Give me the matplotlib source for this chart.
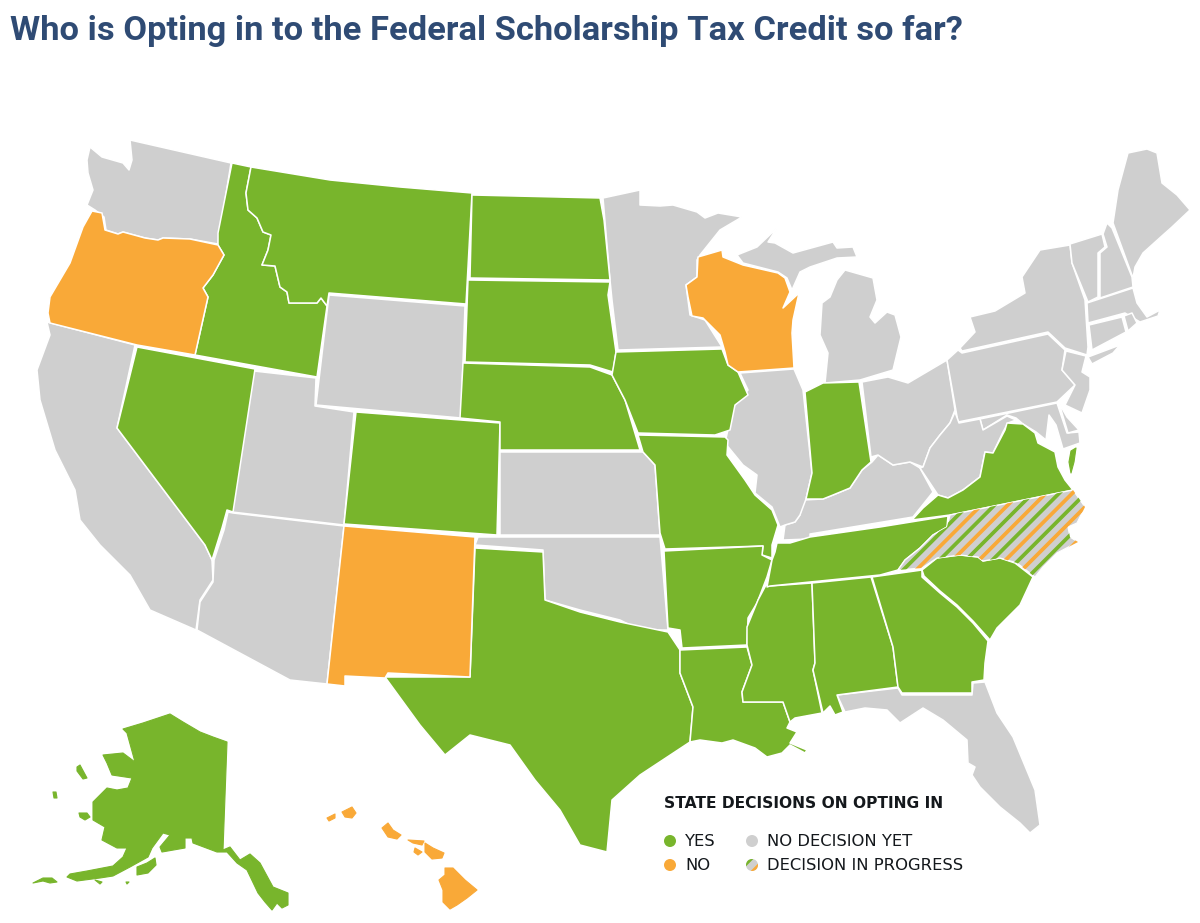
import matplotlib
matplotlib.use("Agg")
import matplotlib.pyplot as plt
from matplotlib.patches import Polygon, Circle

GREEN = "#78B52C"
ORANGE = "#F9A938"
GRAY = "#CFCFCF"

# state outlines in pixels
WA = [(130,140),(231,163),(218,244),(190,239),(163,238),(158,240),(145,238),(123,232),(118,234),(106,230),(104,217),(95,210),(87,205),(93,190),(88,173),(87,160),(90,147),(102,157),(123,163),(129,170),(132,160)]
OR = [(92,211),(102,213),(105,230),(118,234),(123,232),(145,238),(158,240),(163,238),(190,239),(218,245),(224,255),(213,275),(203,288),(208,297),(195,355),(137,345),(50,323),(48,313),(50,297),(70,263),(83,227)]
ID = [(232,163),(251,167),(246,193),(248,210),(257,218),(263,232),(271,235),(268,250),(262,265),(275,266),(280,287),(287,292),(289,303),(317,303),(321,298),(327,306),(317,377),(195,355),(208,297),(203,288),(213,275),(224,255),(218,245),(218,233)]
MT = [(251,167),(330,180),(400,187),(472,193),(466,304),(329,293),(327,306),(321,298),(317,303),(289,303),(287,292),(280,287),(275,266),(262,265),(268,250),(271,235),(263,232),(257,218),(248,210),(246,193)]
WY = [(329,295),(465,306),(461,418),(316,405)]
NV = [(137,347),(255,369),(233,512),(227,510),(222,528),(212,560),(205,545),(117,428)]
CA = [(47,322),(135,345),(117,428),(205,545),(212,560),(213,580),(200,600),(196,630),(150,610),(130,575),(100,545),(80,520),(75,490),(55,450),(40,400),(37,370),(50,335)]
UT = [(254,371),(316,378),(315,406),(354,412),(344,525),(232,512)]
AZ = [(233,513),(344,526),(327,684),(290,680),(197,630),(200,602),(213,582),(214,560),(224,530),(228,512)]
CO = [(356,412),(500,423),(497,535),(344,524)]
NM = [(344,526),(475,537),(470,677),(388,673),(385,678),(345,676),(345,686),(327,684)]
ND = [(472,195),(600,198),(604,220),(610,280),(470,278)]
SD = [(468,280),(610,282),(608,295),(616,352),(613,372),(590,365),(465,362)]
NE = [(463,363),(590,367),(612,375),(625,400),(640,450),(500,450),(500,422),(460,418)]
KS = [(500,452),(643,452),(655,465),(660,535),(500,535)]
OK = [(478,537),(660,537),(668,630),(640,630),(620,620),(580,610),(545,600),(543,550),(475,545)]
TX = [(475,548),(543,552),(545,600),(580,612),(620,622),(668,632),(680,650),(680,673),(693,707),(690,742),(640,775),(612,800),(607,852),(580,845),(560,810),(535,780),(510,745),(470,735),(445,755),(420,725),(385,677),(470,677)]
MN = [(603,198),(640,190),(640,205),(660,206),(673,205),(697,212),(705,218),(718,213),(742,217),(720,230),(700,255),(697,260),(697,277),(686,285),(690,315),(705,320),(722,347),(618,350),(612,300),(610,280)]
WI = [(698,257),(722,250),(723,257),(743,265),(778,273),(785,278),(790,292),(783,308),(799,293),(793,320),(792,333),(794,368),(738,372),(728,365),(725,352),(720,335),(703,318),(692,316),(688,297),(686,285),(697,277)]
IA = [(616,352),(722,349),(728,365),(738,372),(748,395),(735,405),(730,430),(715,435),(638,433),(625,400),(612,375)]
MO = [(638,435),(725,437),(728,440),(727,455),(745,480),(755,495),(772,510),(778,525),(772,545),(772,558),(762,555),(763,546),(665,549),(660,533),(655,465),(643,452)]
AR = [(664,551),(763,546),(762,555),(772,560),(767,577),(757,603),(748,618),(747,645),(682,648),(680,630),(668,628)]
LA = [(680,650),(747,647),(752,665),(742,692),(743,702),(783,702),(790,722),(787,728),(797,732),(790,743),(807,750),(805,753),(790,745),(782,753),(767,757),(755,748),(733,740),(722,743),(700,740),(690,742),(693,707),(680,673)]
MS = [(770,586),(812,583),(815,663),(813,670),(822,713),(795,718),(790,722),(783,702),(743,702),(742,692),(752,665),(747,645),(747,627),(758,600),(766,585)]
AL = [(812,583),(871,577),(893,647),(898,687),(837,695),(843,712),(835,715),(830,706),(823,713),(813,670),(815,663)]
GA = [(872,577),(922,570),(922,577),(940,593),(957,607),(973,623),(988,641),(985,663),(984,680),(972,682),(972,693),(902,693),(898,687),(893,647)]
SC = [(922,570),(937,558),(960,555),(978,557),(983,561),(1000,558),(1015,563),(1033,577),(1020,605),(997,628),(990,640),(973,621),(957,605),(940,591),(924,576)]
FL = [(837,695),(898,688),(902,695),(972,695),(973,683),(985,682),(997,713),(1013,737),(1035,790),(1040,825),(1030,833),(1020,823),(1000,807),(980,787),(972,775),(975,767),(968,763),(967,740),(943,720),(923,708),(900,723),(887,710),(865,708),(845,712)]
TN = [(777,543),(790,543),(810,537),(880,527),(948,516),(947,527),(933,535),(920,548),(905,560),(898,570),(880,575),(770,586),(767,587),(772,560),(775,552)]
KY = [(783,540),(785,525),(795,522),(800,515),(803,500),(823,499),(833,495),(850,488),(862,470),(872,462),(878,455),(893,465),(910,462),(920,468),(933,492),(913,517),(810,534),(810,539)]
IN = [(805,392),(823,383),(859,382),(871,462),(862,470),(850,488),(833,495),(823,499),(806,499),(812,473)]
IL = [(740,373),(794,369),(803,390),(812,473),(806,499),(800,515),(795,522),(785,525),(780,527),(772,507),(755,493),(757,475),(743,465),(725,443),(733,407),(748,390)]
MI_LOWER = [(820,335),(822,303),(830,297),(837,280),(845,270),(873,278),(877,300),(870,317),(875,323),(887,312),(895,315),(901,337),(893,370),(860,380),(825,383),(828,353)]
MI_UPPER = [(737,255),(757,247),(777,228),(768,242),(775,243),(793,253),(833,242),(837,248),(853,247),(857,257),(837,258),(810,267),(800,272),(792,290),(787,278),(778,272),(743,263)]
OH = [(862,382),(888,377),(908,383),(947,360),(955,410),(950,423),(940,435),(930,448),(923,467),(910,462),(893,465),(878,455),(871,457)]
PA = [(947,360),(958,350),(962,353),(1048,334),(1065,350),(1062,370),(1075,385),(1057,402),(958,422)]
NY = [(1070,245),(1040,250),(1022,277),(1025,293),(995,311),(970,317),(975,332),(960,348),(962,351),(1048,332),(1065,348),(1087,355),(1088,347),(1085,300),(1072,263)]
LONG_ISLAND = [(1088,357),(1120,345),(1113,353),(1092,364)]
NJ = [(1066,351),(1086,356),(1082,372),(1090,377),(1090,390),(1082,413),(1065,405),(1075,385),(1062,370)]
VT = [(1070,244),(1102,234),(1105,247),(1098,253),(1098,297),(1088,302),(1072,263)]
NH = [(1107,223),(1112,228),(1132,277),(1133,287),(1100,298),(1100,253),(1107,247),(1103,234)]
ME = [(1113,223),(1118,190),(1128,153),(1147,149),(1157,153),(1162,183),(1177,195),(1190,210),(1172,227),(1163,235),(1143,253),(1135,267),(1133,278)]
MA = [(1087,303),(1133,288),(1137,303),(1147,317),(1160,310),(1158,316),(1140,322),(1125,313),(1088,323)]
CT = [(1089,325),(1122,317),(1126,332),(1092,350)]
RI = [(1124,316),(1132,313),(1137,323),(1128,331)]
MD = [(980,419),(1057,403),(1067,433),(1079,432),(1080,443),(1063,449),(1056,425),(1049,415),(1046,440),(1036,432),(1023,424),(1016,418),(1007,415),(983,430)]
DE = [(1059,403),(1067,417),(1079,430),(1068,433)]
WV = [(955,412),(959,423),(980,419),(983,430),(1007,416),(1016,420),(1008,423),(1003,432),(993,453),(985,452),(980,477),(963,490),(948,498),(938,495),(920,468),(923,467),(930,448),(940,435),(950,423)]
VA = [(1007,423),(1023,424),(1035,433),(1038,443),(1055,452),(1058,467),(1065,480),(1073,490),(950,515),(912,520),(923,508),(938,495),(948,498),(963,490),(980,477),(985,452),(993,453),(1005,430)]
VA_SHORE = [(1076,448),(1074,462),(1071,473),(1069,462),(1071,451)]
NC = [(950,515),(1073,490),(1085,507),(1077,523),(1068,527),(1070,537),(1078,542),(1057,553),(1043,567),(1035,577),(1017,563),(1000,558),(983,561),(978,557),(960,555),(937,558),(922,568),(898,570),(905,560),(920,548),(933,535),(947,527)]
AK = [(123,729),(143,723),(170,714),(183,722),(200,732),(213,737),(227,742),(223,850),(230,847),(240,860),(250,854),(260,863),(273,887),(288,893),(288,905),(282,908),(277,903),(272,910),(265,902),(258,893),(247,870),(237,863),(227,852),(217,852),(193,843),(192,838),(185,838),(185,848),(162,852),(160,847),(170,835),(163,833),(152,848),(148,857),(130,867),(113,876),(100,878),(77,881),(67,877),(70,874),(87,871),(113,866),(123,857),(127,848),(117,848),(102,840),(105,827),(93,820),(93,802),(107,788),(117,790),(128,788),(132,778),(112,775),(107,763),(103,755),(123,753),(135,762),(127,733)]
AK_ISLES = [
    [(77,767),(80,765),(87,778),(83,779),(77,771)],
    [(79,813),(87,813),(90,817),(85,820),(80,817)],
    [(53,792),(56,792),(57,798),(54,798)],
    [(155,858),(156,865),(148,873),(137,875),(137,867),(147,863)],
    [(33,883),(43,878),(52,878),(57,882),(50,883),(43,881)],
    [(95,880),(102,882),(100,884)],
    [(126,882),(129,882),(127,884)],
]
HI_ISLES = [
    [(327,818),(335,814),(335,818),(329,821)],
    [(342,812),(352,807),(356,813),(352,818),(345,817)],
    [(382,828),(388,823),(393,830),(401,835),(397,839),(388,837)],
    [(408,840),(424,841),(422,845),(413,843)],
    [(415,848),(422,852),(418,855),(414,852)],
    [(425,843),(433,848),(444,853),(442,858),(432,859),(425,852)],
    [(445,868),(453,868),(465,880),(477,890),(467,898),(457,905),(450,909),(443,902),(443,890),(439,880),(445,875)],
]

yes_states = [ID, MT, NV, CO, ND, SD, NE, TX, IA, MO, AR, LA, MS, AL, GA, SC, TN, IN, VA]
no_states = [OR, NM, WI]
undecided_states = [WA, WY, CA, UT, AZ, KS, OK, MN, FL, KY, IL, MI_LOWER, MI_UPPER, OH, PA, NY, LONG_ISLAND, NJ, VT, NH, ME, MA, CT, RI, MD, DE, WV]
yes_detached = [VA_SHORE, AK] + AK_ISLES
no_detached = HI_ISLES

title = "Who is Opting in to the Federal Scholarship Tax Credit so far?"
legend_title = "STATE DECISIONS ON OPTING IN"
legend_labels = ["YES", "NO", "NO DECISION YET", "DECISION IN PROGRESS"]

fig = plt.figure(figsize=(12, 9.23), dpi=100)
ax = fig.add_axes([0, 0, 1, 1])
ax.set_xlim(0, 1200)
ax.set_ylim(923, 0)
ax.axis("off")

for shapes, colour in [(undecided_states, GRAY), (yes_states, GREEN), (no_states, ORANGE)]:
    for shape in shapes:
        ax.add_patch(Polygon(shape, closed=True, facecolor=colour, edgecolor="white", linewidth=1.1, joinstyle="round"))

# Alaska, Hawaii and the small islands have no white border, they look chunkier
for shapes, colour in [(yes_detached, GREEN), (no_detached, ORANGE)]:
    for shape in shapes:
        ax.add_patch(Polygon(shape, closed=True, facecolor=colour, edgecolor=colour, linewidth=0.8, joinstyle="round"))

# North Carolina: gray base with clipped diagonal stripes
nc = Polygon(NC, closed=True, facecolor=GRAY, edgecolor="none")
ax.add_patch(nc)
step = 6.6
for i in range(60):
    x = 870 + i * step
    colour = {0: ORANGE, 2: GREEN}.get(i % 4)
    if colour:
        line, = ax.plot([x, x + 100], [590, 490], color=colour, lw=2.7, solid_capstyle="butt")
        line.set_clip_path(nc)
ax.add_patch(Polygon(NC, closed=True, facecolor="none", edgecolor="white", linewidth=0.9))

ax.text(10, 31, title, fontsize=24.8, fontweight="bold", color="#2F4B74", family="Roboto", va="center", ha="left")

ax.text(664, 804, legend_title, fontsize=11.2, fontweight="bold", color="#14181C", family="DejaVu Sans", va="center")
ax.add_patch(Circle((670, 841), 6, facecolor=GREEN, edgecolor="none"))
ax.add_patch(Circle((670, 865), 6, facecolor=ORANGE, edgecolor="none"))
ax.add_patch(Circle((752, 841), 6, facecolor=GRAY, edgecolor="none"))
dot = Circle((752, 865), 6, facecolor=GRAY, edgecolor="none")
ax.add_patch(dot)
for off, colour in [(-3.8, GREEN), (3.8, ORANGE)]:
    line, = ax.plot([746 + off, 758 + off], [871 + off, 859 + off], color=colour, lw=3.0, solid_capstyle="butt")
    line.set_clip_path(dot)

ax.text(685, 841, legend_labels[0], fontsize=11.8, color="#14181C", family="DejaVu Sans", va="center")
ax.text(685, 865, legend_labels[1], fontsize=11.8, color="#14181C", family="DejaVu Sans", va="center")
ax.text(767, 841, legend_labels[2], fontsize=11.8, color="#14181C", family="DejaVu Sans", va="center")
ax.text(767, 865, legend_labels[3], fontsize=11.8, color="#14181C", family="DejaVu Sans", va="center")

fig.savefig("out.png", dpi=100)
